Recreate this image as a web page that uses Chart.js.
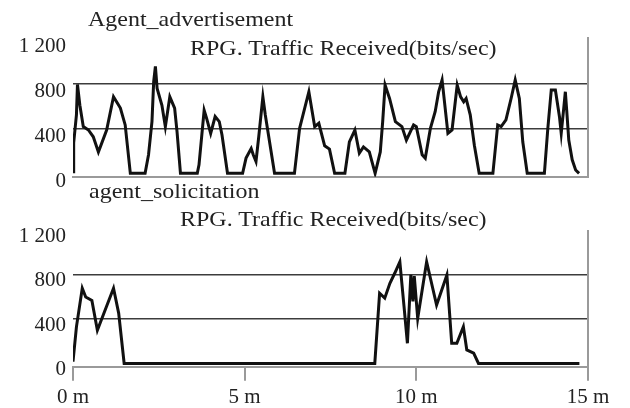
<!DOCTYPE html>
<html>
<head>
<meta charset="utf-8">
<script src="https://cdn.jsdelivr.net/npm/chart.js@4/dist/chart.umd.min.js"></script>
<style>
    body { margin: 0; background: #fff; }
    #wrap { position: relative; width: 630px; height: 408px; overflow: hidden; }
    canvas { position: absolute; left: 0; }
    .title {
        position: absolute;
        font-family: 'Liberation Serif', 'Times New Roman', serif;
        font-size: 22px;
        line-height: 22px;
        color: #222;
        white-space: nowrap;
        transform-origin: left top;
        transform: scaleX(1.09);
    }
</style>
</head>
<body>
<div id="wrap">
    <canvas id="sol-chart" width="630" height="218" style="top:190px"></canvas>
    <canvas id="adv-chart" width="630" height="200" style="top:0"></canvas>
    <div class="title" style="left:88px;top:8px">Agent_advertisement</div>
    <div class="title" style="left:190px;top:37px">RPG. Traffic Received(bits/sec)</div>
    <div class="title" style="left:89px;top:180px">agent_solicitation</div>
    <div class="title" style="left:180px;top:208px">RPG. Traffic Received(bits/sec)</div>
</div>
<script>
// time in minutes, traffic in bits/sec
const advTime = [0, 0.02, 0.1, 0.13, 0.2, 0.3, 0.45, 0.59, 0.74, 0.98,
    1.18, 1.38, 1.52, 1.67, 2.1, 2.2, 2.3, 2.35, 2.4, 2.45,
    2.59, 2.69, 2.82, 2.96, 3.03, 3.13, 3.62, 3.67, 3.82, 3.89,
    4.01, 4.14, 4.26, 4.34, 4.5, 4.94, 5.04, 5.19, 5.25, 5.33,
    5.41, 5.53, 5.6, 5.87, 6.45, 6.6, 6.87, 7.04, 7.16, 7.33,
    7.47, 7.62, 7.92, 8.05, 8.21, 8.34, 8.46, 8.63, 8.8, 8.95,
    9.02, 9.09, 9.22, 9.39, 9.58, 9.71, 9.92, 10.0, 10.17, 10.26,
    10.41, 10.55, 10.65, 10.75, 10.92, 11.04, 11.19, 11.29, 11.38, 11.45,
    11.57, 11.69, 11.83, 12.23, 12.37, 12.47, 12.61, 12.76, 12.88, 13.0,
    13.1, 13.23, 13.73, 13.83, 13.93, 14.05, 14.17, 14.22, 14.3, 14.34,
    14.38, 14.44, 14.54, 14.64, 14.74];
const advValues = [15, 270, 520, 790, 605, 415, 385, 325, 190, 385,
    680, 580, 430, 0, 0, 165, 460, 815, 950, 755,
    605, 415, 680, 580, 370, 0, 0, 75, 560, 490,
    355, 505, 460, 340, 0, 0, 135, 220, 165, 105,
    325, 680, 520, 0, 0, 400, 725, 415, 445, 245,
    215, 0, 0, 280, 385, 180, 235, 190, 0, 190,
    460, 785, 665, 460, 415, 295, 430, 415, 165, 135,
    400, 550, 725, 830, 355, 385, 785, 680, 635, 665,
    520, 250, 0, 0, 430, 415, 475, 665, 830, 665,
    280, 0, 0, 400, 740, 740, 500, 355, 600, 725,
    560, 295, 120, 30, 0];

const solTime = [0, 0.1, 0.27, 0.37, 0.55, 0.71, 1.18, 1.33, 1.49,
    8.79, 8.93, 9.08, 9.23, 9.37, 9.52, 9.64, 9.74, 9.84, 9.9,
    9.94, 10.04, 10.3, 10.59, 10.89, 11.03, 11.18, 11.37, 11.47, 11.67,
    11.81, 14.75];
const solValues = [15, 330, 680, 600, 570, 300, 680, 455, 0,
    0, 634, 590, 724, 815, 919, 520, 182, 800, 560,
    790, 408, 919, 528, 800, 182, 182, 332, 122, 92,
    0, 0];

const yTickValues = [0, 400, 800, 1200];
const yTickLabels = ['0', '400', '800', '1 200'];
const yGridValues = [400, 800];
const xTickValues = [0, 5, 10, 15];
const xTickLabels = ['0 m', '5 m', '10 m', '15 m'];

const tickFont = { family: "'Liberation Serif', 'Times New Roman', serif", size: 21 };
const axisGray = '#9a9a9a';

function makeChart(canvasId, times, values, showXTicks, padTop, padBottom, labelShift) {
    const points = times.map((t, i) => ({ x: t, y: values[i] }));

    const xScale = {
        type: 'linear',
        min: 0,
        max: 15,
        afterBuildTicks: s => { s.ticks = xTickValues.map(v => ({ value: v })); },
        border: { color: axisGray, width: 2 },
        grid: { drawOnChartArea: false, color: axisGray, lineWidth: 2, tickLength: 14, display: showXTicks },
        ticks: {
            display: showXTicks,
            padding: 4,
            maxRotation: 0,
            autoSkip: false,
            color: '#222',
            font: tickFont,
            callback: (v, i) => xTickLabels[i]
        },
        afterFit: s => { s.height = showXTicks ? 41.3 : 0; }
    };

    return new Chart(document.getElementById(canvasId), {
        type: 'line',
        data: {
            datasets: [{
                data: points,
                borderColor: '#111',
                borderWidth: 3,
                pointRadius: 0,
                tension: 0,
                fill: false
            }]
        },
        options: {
            responsive: false,
            animation: false,
            devicePixelRatio: 1,
            layout: { padding: { left: 0, right: 42, top: padTop, bottom: padBottom } },
            plugins: { legend: { display: false }, tooltip: { enabled: false } },
            scales: {
                x: xScale,
                y: {
                    min: -30,
                    max: 1200,
                    afterBuildTicks: s => { s.ticks = yTickValues.map(v => ({ value: v })); },
                    afterFit: s => { s.width = 73; },
                    border: { display: false },
                    grid: {
                        drawTicks: false,
                        lineWidth: 1.6,
                        color: ctx => (ctx.tick && yGridValues.includes(ctx.tick.value)) ? '#3c3c3c' : 'rgba(0,0,0,0)'
                    },
                    ticks: {
                        padding: 7,
                        labelOffset: labelShift,
                        color: '#222',
                        font: tickFont,
                        callback: (v, i) => yTickLabels[i]
                    }
                },
                yRight: {
                    position: 'right',
                    min: -30,
                    max: 1200,
                    ticks: { display: false },
                    grid: { display: false, drawTicks: false },
                    border: { color: axisGray, width: 2 },
                    afterFit: s => { s.width = 0; }
                }
            }
        }
    });
}

makeChart('adv-chart', advTime, advValues, false, 38.3, 23.3, 8);
makeChart('sol-chart', solTime, solValues, true, 40.7, 0, 6);
</script>
</body>
</html>
